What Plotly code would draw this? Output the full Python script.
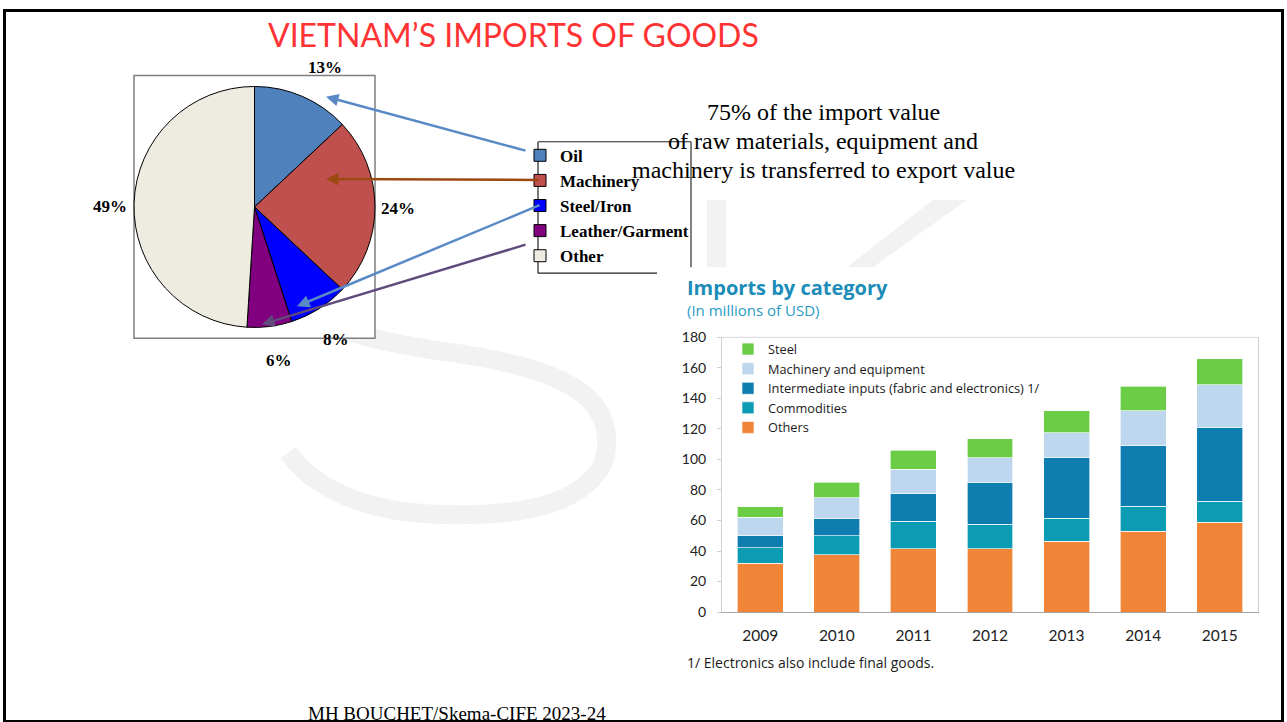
import plotly.graph_objects as go

# ---- slide geometry: positions are given in slide pixels (1287 x 722) ----
W = 1287
SY, OY = 0.974, 9.6   # vertical placement of the figure on the page
FW, FH = W, 731


def px(x):
    return x / FW


def py(y):
    return 1 - ((y - OY) / SY) / FH


# ---- pie data: share of imports ----
pie_labels = ["Oil", "Machinery", "Steel/Iron", "Leather/Garment", "Other"]
pie_values = [13, 24, 8, 6, 49]
pie_colors = ["#4F81BD", "#C0504D", "#0000FF", "#800080", "#EEECE1"]

# ---- stacked bars: imports by category (millions of USD) ----
years = ["2009", "2010", "2011", "2012", "2013", "2014", "2015"]
others = [32, 37.5, 41.5, 41.5, 46.5, 53, 59]
commodities = [10, 12.5, 18, 16, 15, 16.5, 13.5]
intermediate = [8, 11, 18, 27.5, 39.5, 39.5, 48.5]
machinery = [12, 14, 16, 16, 16.5, 23, 28]
steel = [7, 10, 12.5, 12.5, 14.5, 16, 17]

bar_series = [
    ("Others", others, "#F08538"),
    ("Commodities", commodities, "#0B9BB3"),
    ("Intermediate inputs (fabric and electronics) 1/", intermediate, "#0E7DB0"),
    ("Machinery and equipment", machinery, "#BDD7EE"),
    ("Steel", steel, "#6ACD45"),
]
y_ticks = [0, 20, 40, 60, 80, 100, 120, 140, 160, 180]

SERIF = "Liberation Serif, Times New Roman, serif"
SANS = "Lato, Open Sans, sans-serif"
SANS2 = "Open Sans, Noto Sans, sans-serif"

fig = go.Figure()

fig.add_trace(go.Pie(
    labels=pie_labels,
    values=pie_values,
    sort=False,
    direction="clockwise",
    rotation=0,
    marker=dict(colors=pie_colors, line=dict(color="#000000", width=1)),
    textinfo="none",
    hoverinfo="label+percent",
    domain=dict(x=[px(134), px(375)], y=[py(332), py(82)]),
    legend="legend2",
))

for name, vals, color in bar_series:
    fig.add_trace(go.Bar(
        x=years, y=vals, name=name,
        marker=dict(color=color, line=dict(color="rgba(255,255,255,0.8)", width=0.8)),
        xaxis="x", yaxis="y",
    ))

shapes = []
WM = "#F1F2F1"
# watermark: lower sweep of an "S"
s_pts = [(300, 316), (350, 335), (400, 345), (450, 352),
         (520, 362), (560, 375), (585, 395),
         (612, 418), (612, 455), (595, 475),
         (570, 505), (520, 514), (457, 514),
         (380, 514), (320, 495), (288, 452)]
path = "M {},{}".format(px(s_pts[0][0]), py(s_pts[0][1]))
for i in range(1, len(s_pts), 3):
    seg = s_pts[i:i + 3]
    path += " C " + " ".join("{},{}".format(px(a), py(b)) for a, b in seg)
shapes.append(dict(type="path", path=path, xref="paper", yref="paper",
                   line=dict(color=WM, width=19), layer="below"))
# watermark: "K" strokes
shapes.append(dict(type="rect", xref="paper", yref="paper",
                   x0=px(707), x1=px(726), y0=py(267), y1=py(200),
                   fillcolor=WM, line=dict(width=0), layer="below"))
k_path = "M {},{} L {},{} L {},{} L {},{} Z".format(
    px(933), py(200), px(967), py(200), px(873), py(267), px(847), py(267))
shapes.append(dict(type="path", path=k_path, xref="paper", yref="paper",
                   fillcolor=WM, line=dict(width=0), layer="below"))
# pie frame
shapes.append(dict(type="rect", xref="paper", yref="paper",
                   x0=px(134), x1=px(375), y0=py(338), y1=py(76),
                   fillcolor="white", line=dict(color="#7F7F7F", width=1.5), layer="below"))
# pie legend frame (partly hidden by the bar chart panel)
for (x0, y0, x1, y1, c, w) in [(538, 142, 691, 142, "#222222", 1.2),
                                (538, 142, 538, 273, "#222222", 1.2),
                                (538, 273, 657, 273, "#222222", 1.2),
                                (691, 142, 691, 267, "#808080", 2)]:
    shapes.append(dict(type="line", xref="paper", yref="paper",
                       x0=px(x0), y0=py(y0), x1=px(x1), y1=py(y1),
                       line=dict(color=c, width=w), layer="above"))
# bar chart frame top edge
shapes.append(dict(type="line", xref="paper", yref="paper",
                   x0=px(722), y0=py(337), x1=px(1258), y1=py(337),
                   line=dict(color="#D9D9D9", width=1), layer="below"))
# slide border
shapes.append(dict(type="rect", xref="paper", yref="paper",
                   x0=px(4.5), x1=px(1282.5), y0=py(720), y1=1 - 1.5 / FH,
                   line=dict(color="#000000", width=3), layer="above"))

annotations = []


def note(text, x, y, size, color="#000000", family=SANS, weight="normal",
         xanchor="center", yanchor="middle", align="center"):
    annotations.append(dict(text=text, x=px(x), y=py(y), xref="paper", yref="paper",
                            showarrow=False, xanchor=xanchor, yanchor=yanchor, align=align,
                            font=dict(size=size, color=color, family=family, weight=weight)))


note("VIETNAM’S IMPORTS OF GOODS", 513, 35, 32, color="#FF3333")
for line, ly in zip(["75% of the import value",
                     "of raw materials, equipment and",
                     "machinery is transferred to export value"], [112, 141, 170]):
    note(line, 823, ly, 24, family=SERIF)

# percentage labels around the pie
label_pos = [(325, 68), (398, 209), (336, 339), (279, 360), (110, 207)]
for v, (lx, ly) in zip(pie_values, label_pos):
    note(f"{v}%", lx, ly, 17, family=SERIF, weight="bold")

# connector arrows from the legend to the slices
arrows = [((527, 150), (326, 97), "#5A8AC6"),
          ((540, 180), (326, 179), "#9C4A12"),
          ((541, 207), (297, 306), "#5A8AC6"),
          ((527, 246), (262, 324), "#604A7B")]
for (tx, ty), (hx, hy), c in arrows:
    annotations.append(dict(text="", x=px(hx), y=py(hy), xref="paper", yref="paper",
                            ax=tx - hx, ay=(ty - hy) / SY, showarrow=True, arrowhead=2,
                            arrowsize=1, arrowwidth=2.5, arrowcolor=c))

note("Imports by category", 685, 287, 20, color="#1C8CB8", weight="bold",
     xanchor="left", family=SANS2)
note("(In millions of USD)", 685, 310, 15, color="#2A9BC4", xanchor="left",
     family=SANS2)
note("1/ Electronics also include final goods.", 685, 661, 14, color="#1A1A1A",
     xanchor="left", family=SANS2)
note("MH BOUCHET/Skema-CIFE 2023-24", 457, 712, 19, family=SERIF)

fig.update_layout(
    width=FW, height=FH,
    margin=dict(l=0, r=0, t=0, b=0),
    paper_bgcolor="white", plot_bgcolor="white",
    barmode="stack", bargap=0.4,
    shapes=shapes, annotations=annotations,
    xaxis=dict(domain=[px(722), px(1258)], type="category",
               showline=True, linecolor="#A6A6A6", linewidth=1.2,
               ticks="", ticklabelstandoff=9,
               tickfont=dict(family=SANS, size=15.5, color="#222222"),
               showgrid=False, fixedrange=True),
    yaxis=dict(domain=[py(611), py(337)], range=[0, 180],
               tickvals=y_ticks, ticktext=[str(t) for t in y_ticks],
               showline=True, linecolor="#D0D0D0", linewidth=1, mirror=True,
               ticks="outside", ticklen=4, tickcolor="#D0D0D0",
               ticklabelstandoff=8,
               tickfont=dict(family=SANS, size=14, color="#222222"),
               showgrid=False, zeroline=False, fixedrange=True),
    legend=dict(x=px(728), y=py(334), xanchor="left", yanchor="top",
                traceorder="reversed", bgcolor="rgba(0,0,0,0)",
                font=dict(family=SANS2, size=12.75, color="#1A1A1A"),
                itemwidth=30),
    legend2=dict(x=px(520), y=py(138), xanchor="left", yanchor="top",
                 bgcolor="rgba(0,0,0,0)",
                 font=dict(family=SERIF, size=17, color="#000000", weight="bold"),
                 itemwidth=30),
    showlegend=True,
)

fig.write_html("out.html")
